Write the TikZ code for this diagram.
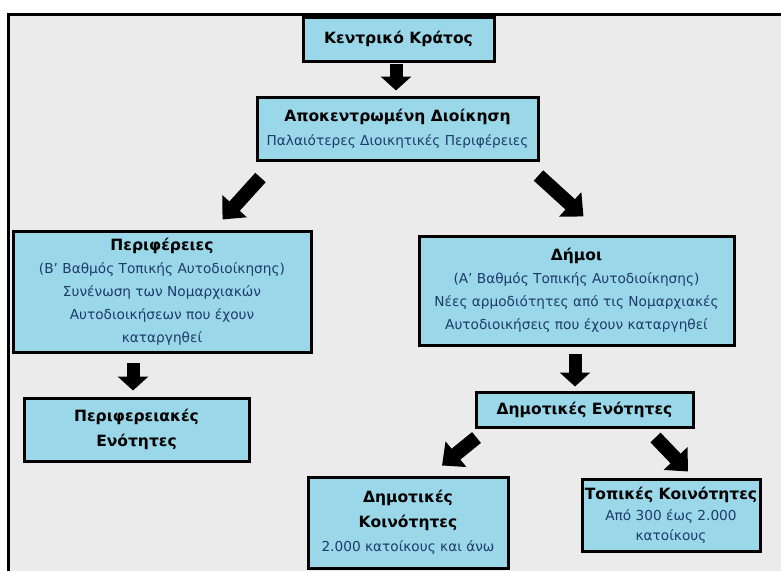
\documentclass[tikz,border=0pt]{standalone}
\usepackage{fontspec}
\setmainfont{DejaVu Sans}
\usetikzlibrary{arrows.meta,calc}
\definecolor{framebg}{HTML}{EBEBEB}
\definecolor{boxblue}{HTML}{9AD8E9}
\definecolor{navy}{HTML}{1F3A6B}
\newcommand{\ttl}[1]{{\bfseries\fontsize{15.5}{23}\selectfont #1}}
\newcommand{\sub}[1]{{\color{navy}#1}}
\begin{document}
\begin{tikzpicture}[x=1pt,y=-1pt,
  box/.style={draw=black,line width=3pt,fill=boxblue,align=center,inner sep=0pt,
              font=\fontsize{13.7}{23}\selectfont},
  tbox/.style={box,font=\bfseries\fontsize{15.5}{25}\selectfont},
  barrow/.style={line width=13pt,-{Triangle[length=14pt,width=30pt]}},
  darrow/.style={line width=14pt,-{Triangle[length=18pt,width=32pt]}}
]
\useasboundingbox (0,0) rectangle (781,570);
\clip (0,0) rectangle (781,570);
\fill[white] (0,0) rectangle (781,570);
\draw[line width=3pt,fill=framebg] (8,14) rectangle (800,600);

\node[tbox,minimum width=191pt,minimum height=44pt] (K) at (398.5,39) {Κεντρικό Κράτος};
\node[box,minimum width=281pt,minimum height=63pt] (A) at (397.5,128.5)
  {\ttl{Αποκεντρωμένη Διοίκηση}\\[1pt]\sub{Παλαιότερες Διοικητικές Περιφέρειες}};
\node[box,minimum width=298pt,minimum height=121pt] (P) at (162,291.5)
  {\ttl{Περιφέρειες}\\\sub{(Β’ Βαθμός Τοπικής Αυτοδιοίκησης)}\\\sub{Συνένωση των Νομαρχιακών}\\\sub{Αυτοδιοικήσεων που έχουν}\\\sub{καταργηθεί}};
\node[box,minimum width=315pt,minimum height=109pt] (D) at (576.5,290.5)
  {\ttl{Δήμοι}\\\sub{(Α’ Βαθμός Τοπικής Αυτοδιοίκησης)}\\\sub{Νέες αρμοδιότητες από τις Νομαρχιακές}\\\sub{Αυτοδιοικήσεις που έχουν καταργηθεί}};
\node[tbox,minimum width=225pt,minimum height=63pt] (PE) at (136.5,429.5) {Περιφερειακές\\Ενότητες};
\node[tbox,minimum width=217pt,minimum height=35pt] (DE) at (584.5,409.5) {Δημοτικές Ενότητες};
\node[box,minimum width=200pt,minimum height=91pt] (DK) at (408,522.5)
  {\ttl{Δημοτικές}\\[2pt]\ttl{Κοινότητες}\\[1pt]\sub{2.000 κατοίκους και άνω}};
\node[box,minimum width=178pt,minimum height=72pt] (TK) at (671,515)
  {\ttl{Τοπικές Κοινότητες}\\[-2pt]\sub{Από 300 έως 2.000}\\[-3pt]\sub{κατοίκους}};

\draw[barrow] ($(K.south)+(-2.5,1)$) -- ($(A.north)+(-1.5,-5)$);
\draw[darrow] ($(A.south west)+(5,16)$) -- ($(P.north east)+(-90,-10)$);
\draw[darrow] ($(A.south east)+(-1,14)$) -- ($(D.north west)+(166,-18)$);
\draw[barrow] ($(P.south)+(-29,9)$) -- ($(PE.north)+(-3.5,-6)$);
\draw[barrow] ($(D.south)+(-1.5,7)$) -- ($(DE.north)+(-9.5,-4)$);
\draw[darrow] ($(DE.south west)+(2,9)$) -- ($(DK.north)+(34,-10)$);
\draw[darrow] ($(DE.south east)+(-39,9)$) -- ($(TK.north)+(17,-6)$);
\end{tikzpicture}
\end{document}
